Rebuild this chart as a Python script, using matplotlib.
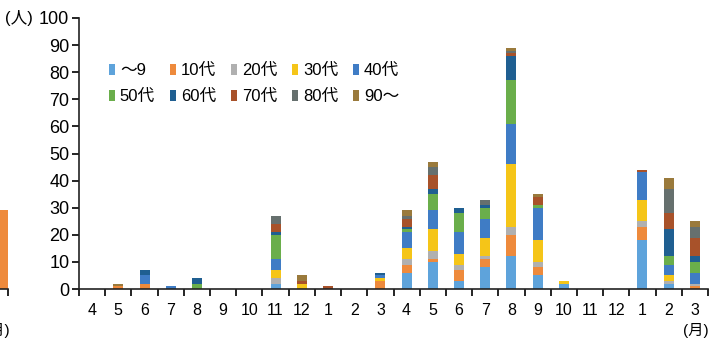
import numpy as np
import matplotlib
matplotlib.use("Agg")
import matplotlib.pyplot as plt
from matplotlib.patches import Patch

plt.rcParams['font.family'] = ['Liberation Sans', 'Noto Sans CJK JP', 'DejaVu Sans']

months = ['4', '5', '6', '7', '8', '9', '10', '11', '12', '1', '2', '3',
          '4', '5', '6', '7', '8', '9', '10', '11', '12', '1', '2', '3']
groups = ['～9', '10代', '20代', '30代', '40代', '50代', '60代', '70代', '80代', '90～']

u9  = [0, 0, 0, 0, 0, 0, 0, 2, 0, 0, 0, 0, 6, 10, 3, 8, 12, 5, 2, 0, 0, 18, 2, 0]
a10 = [0, 1, 2, 0, 0, 0, 0, 0, 0, 0, 0, 3, 3, 1, 4, 3, 8, 3, 0, 0, 0, 5, 0, 1]
a20 = [0, 0, 0, 0, 0, 0, 0, 2, 0, 0, 0, 0, 2, 3, 2, 1, 3, 2, 0, 0, 0, 2, 1, 1]
a30 = [0, 0, 0, 0, 0, 0, 0, 3, 2, 0, 0, 1, 4, 8, 4, 7, 23, 8, 1, 0, 0, 8, 2, 0]
a40 = [0, 0, 3, 1, 0, 0, 0, 4, 0, 0, 0, 1, 6, 7, 8, 7, 15, 12, 0, 0, 0, 10, 4, 4]
a50 = [0, 0, 0, 0, 2, 0, 0, 9, 0, 0, 0, 0, 1, 6, 7, 4, 16, 1, 0, 0, 0, 0, 3, 4]
a60 = [0, 0, 2, 0, 2, 0, 0, 1, 0, 0, 0, 1, 1, 2, 2, 1, 9, 0, 0, 0, 0, 0, 10, 2]
a70 = [0, 0, 0, 0, 0, 0, 0, 3, 1, 1, 0, 0, 3, 5, 0, 0, 1, 3, 0, 0, 0, 1, 6, 7]
a80 = [0, 0, 0, 0, 0, 0, 0, 3, 0, 0, 0, 0, 1, 3, 0, 2, 1, 0, 0, 0, 0, 0, 9, 4]
a90 = [0, 1, 0, 0, 0, 0, 0, 0, 2, 0, 0, 0, 2, 2, 0, 0, 1, 1, 0, 0, 0, 0, 4, 2]

# value of the neighbouring chart's bar that is cut off at the left edge
prev_bar = [29]

colors = ['#5ea3db', '#ee8a3c', '#b0b0b0', '#f5c518', '#3f7cc5',
          '#6aae4b', '#1f5f91', '#a8522a', '#66706e', '#9a7a3c']

series = [u9, a10, a20, a30, a40, a50, a60, a70, a80, a90]

W, H = 710, 342
fig = plt.figure(figsize=(W / 100, H / 100), dpi=100)
ax = fig.add_axes([79 / W, (H - 289) / H, (708 - 79) / W, (289 - 18) / H])

x = np.arange(len(months))
bottom = np.zeros(len(months))
for vals, c, g in zip(series, colors, groups):
    v = np.array(vals, dtype=float)
    ax.bar(x, v, 0.38, bottom=bottom, color=c, label=g, linewidth=0)
    bottom += v

ax.set_xlim(-0.5, len(months) - 0.5)
ax.set_ylim(0, 100)
ax.set_yticks(range(0, 101, 10))
ax.set_xticks(x)
ax.set_xticklabels(months)
ax.set_xticks(np.arange(-0.5, len(months), 1), minor=True)
ax.tick_params(axis='x', which='major', length=0, pad=10, labelsize=11.5)
ax.tick_params(axis='x', which='minor', length=5, width=1.2, direction='out')
ax.tick_params(axis='y', length=5, width=1.2, direction='out', labelsize=13, pad=2)
for s in ['top', 'right']:
    ax.spines[s].set_visible(False)
for s in ['left', 'bottom']:
    ax.spines[s].set_linewidth(1.2)
    ax.spines[s].set_color('#222222')

order = [0, 5, 1, 6, 2, 7, 3, 8, 4, 9]
handles = [Patch(facecolor=colors[i], edgecolor='none') for i in order]
labels = [groups[i] for i in order]
ax.legend(handles, labels, ncol=5, loc='upper left',
          bbox_to_anchor=(101 / W, 1 - 55 / H), bbox_transform=fig.transFigure,
          frameon=False, fontsize=12, handlelength=0.33, handleheight=0.65,
          handletextpad=0.3, columnspacing=0.92, labelspacing=0.65, borderpad=0)

fig.text(5 / W, 1 - 18 / H, '(人)', fontsize=12, va='center', ha='left')
fig.text(709 / W, 1 - 330 / H, '(月)', fontsize=11, va='center', ha='right')

# remnant of the neighbouring chart at the left edge
ax0 = fig.add_axes([-24 / W, (H - 289) / H, 32 / W, (289 - 18) / H])
ax0.bar([0.845], prev_bar, 0.31, color='#ee8a3c', linewidth=0)
ax0.set_xlim(0, 1)
ax0.set_ylim(0, 100)
ax0.set_xticks([1.0])
ax0.set_xticklabels([''])
ax0.set_yticks([])
ax0.tick_params(axis='x', length=5, width=1.2)
for s in ['top', 'right', 'left']:
    ax0.spines[s].set_visible(False)
ax0.spines['bottom'].set_linewidth(1.2)
ax0.spines['bottom'].set_color('#222222')
fig.text(10 / W, 1 - 330 / H, '(月)', fontsize=11, va='center', ha='right')

fig.savefig('out.png', dpi=100)
